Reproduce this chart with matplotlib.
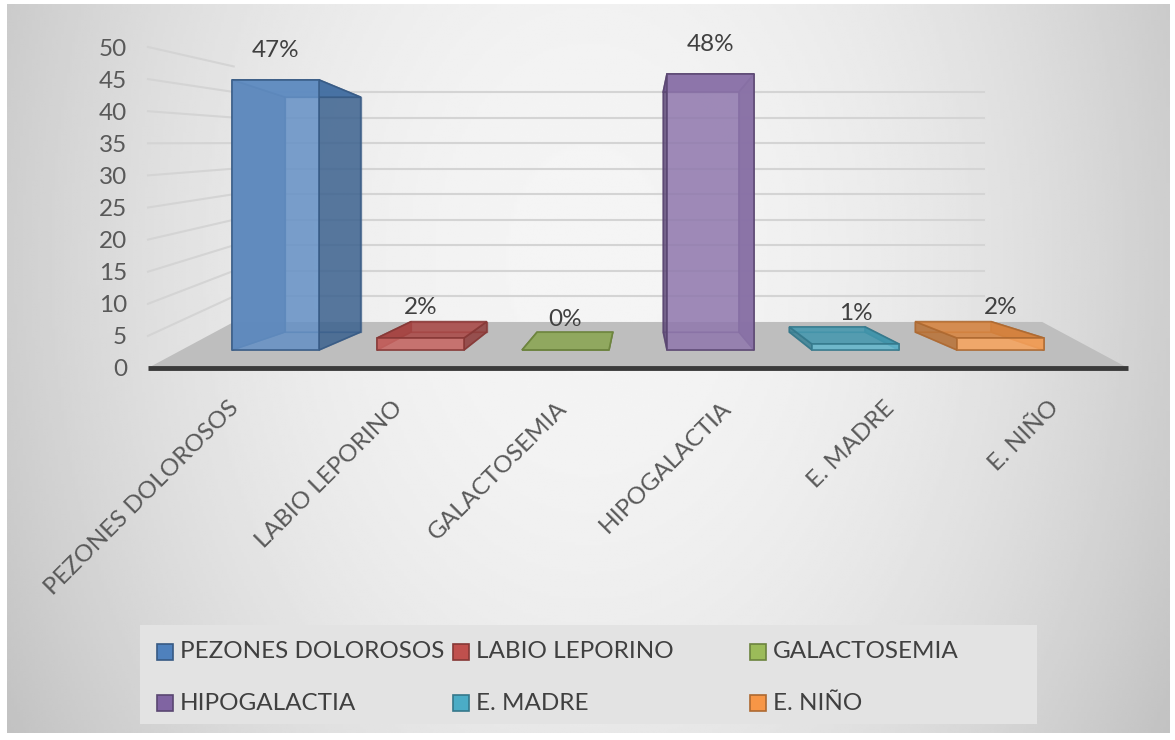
import numpy as np
import matplotlib.pyplot as plt
import matplotlib.colors as mcolors
from matplotlib.patches import Polygon, Rectangle

plt.rcParams['font.family'] = ['Lato', 'DejaVu Sans']

categories = ["PEZONES DOLOROSOS", "LABIO LEPORINO", "GALACTOSEMIA",
              "HIPOGALACTIA", "E. MADRE", "E. NIÑO"]
counts = [45, 2, 0, 46, 1, 2]
percent_labels = ["47%", "2%", "0%", "48%", "1%", "2%"]
colors = ["#4F81BD", "#C0504D", "#9BBB59", "#8064A2", "#4BACC6", "#F79646"]
y_ticks = list(range(0, 51, 5))

W, H = 1175, 740

def fx(px):
    return px / W

def fy(py):
    return 1 - py / H

# fake 3D: each depth plane is (x scale towards VX, y scale, y offset)
VX = 2.5
FLOOR_FRONT = (1.0, 1.0, 0.0)
BAR_FRONT = (0.92, 0.935, 2.8)
BAR_BACK = (0.80, 0.813, 5.6)
WALL = (0.825, 0.796, 7.17)
LABEL = (0.92, 0.933, 7.5)
X_LEFT, X_RIGHT, WALL_RIGHT = -0.61, 5.61, 5.16
BAR_W = 0.6

def proj(x, y, plane):
    sx, sy, y0 = plane
    return VX + (x - VX) * sx, y0 + y * sy

fig = plt.figure(figsize=(W / 100, H / 100), dpi=100)

# background gradient of the chart area
bg = fig.add_axes([fx(7), fy(733), fx(1170) - fx(7), fy(4) - fy(733)])
gx, gy = np.meshgrid(np.linspace(-1, 1, 400), np.linspace(-1, 1, 300))
grad = 0.96 - 0.15 * gx**2 - 0.03 * (gy + 0.3)**2
bg.imshow(grad, cmap='gray', vmin=0, vmax=1, aspect='auto', interpolation='bilinear')
bg.axis('off')

ax = fig.add_axes([fx(148), fy(368), fx(1128) - fx(148), fy(47) - fy(368)])
ax.set_xlim(X_LEFT, X_RIGHT)
ax.set_ylim(0, 50)
ax.patch.set_alpha(0)
for sp in ax.spines.values():
    sp.set_visible(False)

# walls
xl_back = proj(X_LEFT, 0, WALL)[0]
xr_back = proj(WALL_RIGHT, 0, WALL)[0]
for v in y_ticks[1:]:
    yb = proj(X_LEFT, v, WALL)[1]
    if v < 50:
        ax.plot([xl_back, xr_back], [yb, yb], color='#d4d4d4', lw=1.5, zorder=1)
    ax.plot([X_LEFT, xl_back], [v, yb], color='#d4d4d4', lw=1.5, zorder=1, clip_on=False)

# floor
floor = [proj(X_LEFT, 0, FLOOR_FRONT), proj(X_RIGHT, 0, FLOOR_FRONT),
         proj(X_RIGHT, 0, WALL), proj(X_LEFT, 0, WALL)]
ax.add_patch(Polygon(floor, closed=True, facecolor='#bebebe', edgecolor='none',
                     zorder=2, clip_on=False))
ax.plot([X_LEFT, X_RIGHT], [0, 0], color='#3a3a3a', lw=3.5, zorder=3,
        clip_on=False, solid_capstyle='butt')

# bars
for i, (v, c) in enumerate(zip(counts, colors)):
    x0, x1 = i - BAR_W / 2, i + BAR_W / 2
    corners = [(x0, 0), (x1, 0), (x1, v), (x0, v)]
    fr = [proj(x, y, BAR_FRONT) for x, y in corners]
    bk = [proj(x, y, BAR_BACK) for x, y in corners]
    base = np.array(mcolors.to_rgb(c))
    front = tuple(base + (1 - base) * 0.12)
    edge = tuple(base * 0.7)
    # hidden edges, seen through the glass
    ax.add_patch(Polygon(bk, fill=False, edgecolor=edge, lw=1.0, alpha=0.6, zorder=4))
    ax.add_patch(Polygon([fr[0], fr[1], bk[1], bk[0]], fill=False, edgecolor=edge,
                         lw=1.0, alpha=0.6, zorder=4))
    sides = [([fr[0], fr[3], bk[3], bk[0]], base * 0.75),
             ([fr[1], fr[2], bk[2], bk[1]], base * 0.75),
             ([fr[3], fr[2], bk[2], bk[3]], base * 0.88)]
    for pts, fc in sides:
        ax.add_patch(Polygon(pts, facecolor=tuple(fc), edgecolor=edge, lw=1.2,
                             alpha=0.85, zorder=4))
    ax.bar((fr[0][0] + fr[1][0]) / 2, fr[3][1] - fr[0][1], width=fr[1][0] - fr[0][0],
           bottom=fr[0][1], color=front, alpha=0.85, edgecolor=edge, lw=1.2, zorder=5)

for i, (v, lab) in enumerate(zip(counts, percent_labels)):
    lx, ly = proj(i, v, LABEL)
    ax.text(lx, ly, lab, ha='center', va='center', fontsize=17.5, color='#404040', zorder=6)

ax.set_yticks(y_ticks)
ax.tick_params(axis='y', length=0, pad=15, labelsize=17.5, labelcolor='#595959')
ax.set_xticks([proj(i, 0, (1.04, 1, 0))[0] for i in range(len(categories))])
ax.set_xticklabels(categories, rotation=45, ha='right', rotation_mode='anchor')
ax.tick_params(axis='x', length=0, pad=21, labelsize=17.5, labelcolor='#595959')

# legend
fig.add_artist(Rectangle((fx(140), fy(724)), fx(1037) - fx(140), fy(625) - fy(724),
                         transform=fig.transFigure, facecolor='#e3e3e3', edgecolor='none'))
col_x = [157, 453, 750]
row_y = [652, 703]
for i, (lab, c) in enumerate(zip(categories, colors)):
    mx, my = col_x[i % 3], row_y[i // 3]
    fig.add_artist(Rectangle((fx(mx), fy(my + 8)), 16 / W, 16 / H, transform=fig.transFigure,
                             facecolor=c, edgecolor=tuple(np.array(mcolors.to_rgb(c)) * 0.7),
                             lw=1.2))
    fig.text(fx(mx + 23), fy(my), lab, ha='left', va='center', fontsize=17.5, color='#404040')

fig.savefig('out.png', dpi=100)
